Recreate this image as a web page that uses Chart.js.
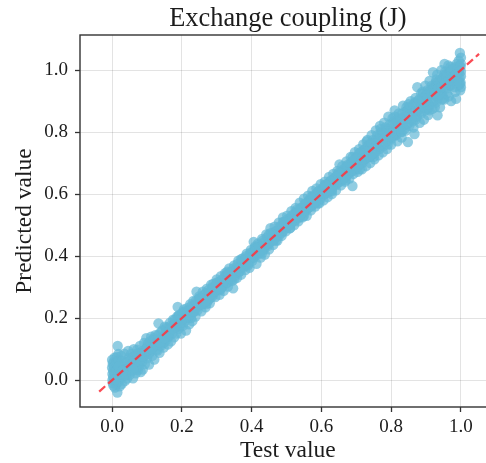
<!DOCTYPE html>
<html lang="en">
<head>
<meta charset="UTF-8">
<title>Exchange coupling (J)</title>
<script src="https://cdn.jsdelivr.net/npm/chart.js"></script>
<style>
  html, body { margin: 0; padding: 0; background: #fff; overflow: hidden; }
  #wrap { width: 486px; height: 463px; overflow: hidden; }
  canvas { display: block; }
</style>
</head>
<body>
<div id="wrap"><canvas id="chart" width="501" height="463"></canvas></div>
<script>
// Values, one test/predicted pair per index
const testValues = [
  .000, .000, .001, .001, .002, .002, .003, .003, .004, .004,
  .005, .006, .006, .007, .008, .009, .010, .011, .012, .013,
  .014, .015, .016, .016, .017, .018, .019, .020, .021, .022,
  .024, .025, .026, .028, .029, .030, .032, .034, .035, .037,
  .039, .041, .043, .045, .046, .048, .050, .052, .054, .056,
  .058, .060, .062, .064, .066, .068, .070, .072, .074, .076,
  .078, .080, .082, .084, .086, .088, .090, .092, .094, .096,
  .098, .100, .103, .106, .109, .112, .115, .118, .121, .124,
  .127, .130, .133, .136, .139, .142, .145, .148, .151, .154,
  .157, .160, .163, .166, .169, .172, .175, .178, .181, .184,
  .187, .188, .191, .194, .197, .200, .203, .206, .209, .212,
  .215, .218, .221, .224, .227, .230, .233, .236, .239, .242,
  .245, .248, .252, .256, .260, .264, .268, .272, .276, .280,
  .284, .288, .292, .296, .300, .304, .308, .312, .316, .320,
  .324, .328, .332, .336, .340, .344, .347, .350, .354, .358,
  .362, .366, .370, .374, .378, .382, .386, .390, .394, .398,
  .402, .406, .410, .414, .418, .422, .426, .430, .434, .438,
  .442, .446, .450, .454, .458, .462, .466, .470, .474, .478,
  .482, .486, .490, .494, .498, .502, .506, .510, .514, .518,
  .522, .526, .530, .534, .538, .542, .546, .550, .554, .558,
  .562, .566, .570, .574, .578, .582, .586, .590, .594, .598,
  .602, .606, .610, .614, .618, .622, .626, .630, .634, .638,
  .642, .646, .650, .652, .656, .660, .664, .668, .672, .676,
  .680, .684, .688, .689, .692, .696, .700, .704, .708, .712,
  .716, .720, .724, .728, .732, .736, .740, .744, .748, .752,
  .756, .760, .764, .768, .772, .776, .780, .784, .788, .792,
  .796, .800, .804, .808, .810, .814, .818, .822, .826, .830,
  .834, .838, .842, .846, .848, .852, .856, .860, .864, .867,
  .870, .875, .878, .882, .886, .890, .894, .898, .902, .906,
  .910, .914, .918, .920, .924, .928, .932, .933, .936, .940,
  .944, .948, .952, .953, .956, .960, .964, .968, .972, .976,
  .980, .984, .986, .988, .990, .992, .994, .996, .997, .998,
  .999, .999, 1.000, 1.000, 1.000, 1.000, .990, .980, .970, .960,
  .052, .058, .064, .070, .076, .082, .088, .094, .100, .106,
  .112, .118, .124, .130, .136, .142, .148, .154, .160, .166,
  .172, .178, .184, .190, .196, .202, .208, .214, .220, .226,
  .232, .238, .244, .250, .256, .262, .268, .274, .280, .286,
  .292, .298, .304, .310, .316, .322, .328, .334, .340, .346,
  .352, .358, .364, .370, .376, .382, .388, .394, .400, .406,
  .412, .418, .424, .430, .436, .442, .448, .454, .460, .466,
  .472, .478, .484, .490, .496, .502, .508, .514, .520, .526,
  .532, .538, .544, .550, .556, .562, .568, .574, .580, .586,
  .592, .598, .604, .610, .616, .622, .628, .634, .640, .646,
  .652, .658, .664, .670, .676, .682, .688, .694, .700, .706,
  .712, .718, .724, .730, .736, .742, .748, .754, .760, .766,
  .772, .778, .784, .790, .796, .802, .808, .814, .820, .826,
  .832, .838, .844, .850, .856, .862, .868, .874, .880, .886,
  .892, .898, .904, .910, .916, .922, .928, .934, .940, .946,
  .952, .958, .964, .970, .976, .982, .988, .994, .998, 1.000,
  .885, .895, .905, .915, .925, .935, .945, .955, .965, .975,
  .700, .720, .740, .760, .780, .800, .820, .840, .860, .880,
  .300, .340, .380, .420, .460, .500, .540, .580, .620, .660,
  .110, .135, .155, .175, .195, .215, .235, .255, .275, .295,
  .010, .020, .030, .040, .050, .060, .070, .080, .090, .100,
  .104, .108, .114, .120, .126, .132, .138, .144, .150, .156,
  .162, .168, .174, .180, .186, .192, .198, .204, .210, .216,
  .222, .228, .234, .240, .246, .252, .258, .264, .270, .276,
  .282, .288, .294, .300, .306, .312, .318, .324, .330, .336,
  .342, .348, .354, .360, .366, .372, .378, .384, .390, .396,
  .402, .408, .414, .420, .426, .432, .438, .444, .450, .456,
  .462, .468, .474, .480, .486, .492, .498, .504, .510, .516,
  .522, .528, .534, .540, .546, .552, .558, .564, .570, .576,
  .582, .588, .594, .600, .606, .612, .618, .624, .630, .636,
  .642, .648, .654, .660, .666, .672, .678, .684, .690, .696,
  .702, .708, .714, .720, .726, .732, .738, .744, .750, .756,
  .762, .768, .774, .780, .786, .792, .798, .804, .810, .816,
  .822, .828, .834, .840, .846, .852, .858, .864, .870, .876,
  .882, .888, .894, .900, .906, .912, .918, .924, .930, .936,
  .942, .948, .954, .960, .966, .972, .978, .984, .990, .996,
  .250, .270, .290, .310, .330, .350, .370, .390, .410, .430,
  .450, .470, .490, .510, .530, .550, .570, .590, .610, .630,
  .650, .670, .690, .710, .730, .750, .770, .790, .810, .830,
  .850, .870, .890, .910, .930, .950, .970, .990, .995, .985,
  .905, .915, .925, .935, .945, .955, .965, .975, .985, .995
];
const predictedValues = [
  .065, .040, .020, .000, .052, -.010, .030, .010, .058, -.018,
  .044, .024, .003, .072, -.024, .036, .056, .012, -.014, .028,
  .075, -.040, .110, .048, -.006, .084, .020, .064, .036, -.020,
  .052, .006, .078, -.012, .030, .062, .014, .044, .085, -.002,
  .022, .058, .005, .038, .094, .072, .016, .050, .084, .030,
  .062, .006, .100, .042, .078, .022, .056, .098, .032, .070,
  .045, .110, .026, .088, .058, .034, .076, .120, .052, .098,
  .135, .070, .118, .050, .092, .140, .078, .112, .066, .145,
  .098, .130, .183, .088, .154, .112, .140, .105, .172, .128,
  .158, .115, .140, .185, .125, .165, .195, .138, .178, .150,
  .205, .236, .165, .190, .150, .215, .175, .228, .190, .160,
  .232, .200, .180, .245, .212, .190, .255, .222, .205, .285,
  .225, .262, .245, .222, .285, .250, .235, .295, .260, .248,
  .308, .270, .300, .268, .325, .290, .275, .335, .300, .288,
  .345, .312, .302, .360, .330, .320, .296, .370, .338, .330,
  .385, .350, .340, .392, .368, .355, .408, .378, .362, .420,
  .385, .446, .402, .375, .440, .410, .395, .455, .420, .405,
  .470, .432, .422, .490, .450, .436, .495, .465, .450, .508,
  .480, .465, .525, .495, .480, .530, .510, .490, .545, .518,
  .500, .555, .530, .512, .572, .545, .525, .585, .555, .530,
  .595, .568, .548, .610, .580, .560, .618, .595, .570, .632,
  .605, .580, .640, .615, .590, .655, .625, .600, .665, .640,
  .612, .675, .650, .696, .628, .690, .665, .640, .705, .680,
  .650, .720, .690, .626, .665, .735, .705, .672, .745, .715,
  .680, .760, .725, .690, .775, .740, .700, .790, .755, .712,
  .805, .770, .725, .820, .785, .735, .830, .795, .745, .850,
  .805, .760, .845, .790, .870, .825, .770, .860, .800, .782,
  .885, .840, .805, .870, .768, .820, .900, .850, .815, .794,
  .910, .945, .870, .830, .925, .885, .840, .950, .900, .855,
  .965, .920, .875, .993, .945, .895, .985, .854, .930, .880,
  1.000, .955, .905, 1.020, .975, .925, 1.015, .950, .900, 1.005,
  .970, .930, .907, 1.020, .990, .950, 1.030, .975, 1.055, .935,
  1.010, .960, .995, 1.040, .945, .980, 1.005, 1.000, .985, .960,
  .040, .075, .060, .035, .085, .065, .095, .080, .105, .085,
  .100, .130, .110, .095, .125, .135, .120, .150, .140, .155,
  .150, .180, .170, .205, .175, .195, .210, .205, .225, .200,
  .225, .245, .235, .250, .265, .245, .280, .255, .285, .275,
  .285, .305, .315, .295, .325, .315, .340, .325, .350, .340,
  .355, .365, .350, .375, .385, .370, .395, .385, .410, .395,
  .425, .405, .430, .420, .445, .435, .455, .445, .470, .455,
  .480, .465, .495, .480, .510, .495, .520, .505, .535, .515,
  .545, .525, .555, .540, .570, .555, .580, .565, .595, .575,
  .610, .585, .620, .600, .630, .610, .645, .625, .655, .635,
  .665, .645, .680, .655, .695, .670, .705, .680, .720, .690,
  .735, .700, .745, .715, .760, .725, .775, .735, .790, .745,
  .800, .755, .815, .770, .825, .780, .835, .790, .845, .815,
  .860, .810, .880, .830, .875, .835, .895, .850, .905, .860,
  .925, .870, .935, .885, .950, .900, .960, .910, .970, .920,
  .985, .940, .990, .950, 1.000, .945, .965, 1.000, .955, 1.020,
  .890, .915, .875, .935, .880, .950, .905, .995, .915, .985,
  .680, .710, .720, .755, .780, .800, .815, .850, .865, .880,
  .300, .345, .380, .420, .465, .505, .535, .585, .620, .665,
  .115, .110, .165, .175, .200, .215, .235, .255, .270, .300,
  .002, .045, .030, .015, .062, .035, .085, .060, .075, .105,
  .095, .125, .100, .135, .115, .145, .120, .160, .135, .170,
  .150, .175, .165, .195, .175, .210, .185, .220, .200, .225,
  .210, .240, .220, .255, .240, .265, .245, .275, .260, .290,
  .265, .300, .285, .315, .295, .320, .305, .335, .315, .345,
  .325, .360, .345, .375, .360, .385, .365, .400, .375, .410,
  .395, .425, .410, .435, .415, .450, .430, .460, .440, .475,
  .450, .480, .470, .495, .475, .510, .490, .520, .500, .530,
  .515, .540, .525, .555, .540, .570, .550, .580, .560, .595,
  .570, .605, .585, .615, .600, .630, .605, .640, .615, .650,
  .630, .665, .640, .675, .650, .690, .665, .700, .675, .715,
  .690, .730, .700, .740, .715, .755, .720, .765, .730, .775,
  .750, .790, .760, .800, .770, .810, .785, .825, .790, .835,
  .805, .845, .820, .865, .825, .880, .840, .890, .850, .900,
  .865, .905, .880, .920, .890, .935, .900, .950, .915, .965,
  .930, .975, .945, .990, .955, 1.000, .965, 1.010, .975, 1.015,
  .270, .245, .310, .290, .350, .325, .390, .370, .430, .410,
  .470, .450, .510, .490, .550, .530, .590, .570, .630, .610,
  .670, .645, .720, .680, .770, .720, .810, .760, .850, .800,
  .890, .840, .930, .870, .970, .910, 1.010, 1.000, .960, .985,
  .910, .925, .925, .940, .945, .960, .965, .975, .985, .995
];
const parityX = [-0.037, 1.052];
const parityY = [-0.037, 1.052];
const xTicks = [0, 0.2, 0.4, 0.6, 0.8, 1.0];
const yTicks = [0, 0.2, 0.4, 0.6, 0.8, 1.0];

const SERIF = '"Liberation Serif", "Times New Roman", serif';
const INK = '#1c1c1c';

// matplotlib style box round the plot area
const framePlugin = {
  id: 'frame',
  afterDatasetsDraw(chart) {
    const { ctx, chartArea: a } = chart;
    ctx.save();
    ctx.strokeStyle = '#333';
    ctx.lineWidth = 1.4;
    ctx.strokeRect(a.left, a.top, a.right - a.left, a.bottom - a.top);
    ctx.restore();
  }
};

new Chart(document.getElementById('chart'), {
  type: 'scatter',
  data: {
    datasets: [
      {
        type: 'line',
        data: parityX.map((x, i) => ({ x, y: parityY[i] })),
        borderColor: 'rgba(250, 55, 65, 0.9)',
        borderWidth: 2.3,
        borderDash: [8, 4],
        pointRadius: 0,
        order: 0
      },
      {
        data: testValues.map((x, i) => ({ x, y: predictedValues[i] })),
        backgroundColor: 'rgba(98, 184, 214, 0.7)',
        borderWidth: 0,
        pointRadius: 5.2,
        order: 1
      }
    ]
  },
  options: {
    responsive: false,
    animation: false,
    layout: { padding: 0 },
    plugins: {
      legend: { display: false },
      tooltip: { enabled: false },
      title: {
        display: true,
        text: 'Exchange coupling (J)',
        fullSize: false,
        color: INK,
        font: { family: SERIF, size: 26.4, weight: 'normal', lineHeight: 1 },
        padding: { top: 6, bottom: 2.6 }
      }
    },
    scales: {
      x: {
        type: 'linear',
        min: -0.092,
        max: 1.1,
        afterFit(scale) { scale.height = 56; },
        afterBuildTicks(scale) { scale.ticks = xTicks.map(value => ({ value })); },
        grid: { color: 'rgba(0, 0, 0, 0.11)', lineWidth: 1, tickColor: '#333', tickWidth: 1.3, tickLength: 5 },
        border: { display: false },
        ticks: {
          color: INK,
          padding: 4,
          maxRotation: 0,
          font: { family: SERIF, size: 19 },
          callback: v => v.toFixed(1)
        },
        title: {
          display: true,
          text: 'Test value',
          color: INK,
          font: { family: SERIF, size: 23.5, lineHeight: 1 },
          padding: { top: 0, bottom: 0 }
        }
      },
      y: {
        type: 'linear',
        min: -0.0868,
        max: 1.1132,
        afterFit(scale) { scale.width = 80; },
        afterBuildTicks(scale) { scale.ticks = yTicks.map(value => ({ value })); },
        grid: { color: 'rgba(0, 0, 0, 0.11)', lineWidth: 1, tickColor: '#333', tickWidth: 1.3, tickLength: 5 },
        border: { display: false },
        ticks: {
          color: INK,
          padding: 7,
          font: { family: SERIF, size: 19 },
          callback: v => v.toFixed(1)
        },
        title: {
          display: true,
          text: 'Predicted value',
          color: INK,
          font: { family: SERIF, size: 23.5, lineHeight: 1 },
          padding: { top: 13.5, bottom: 0 }
        }
      }
    }
  },
  plugins: [framePlugin]
});
</script>
</body>
</html>
